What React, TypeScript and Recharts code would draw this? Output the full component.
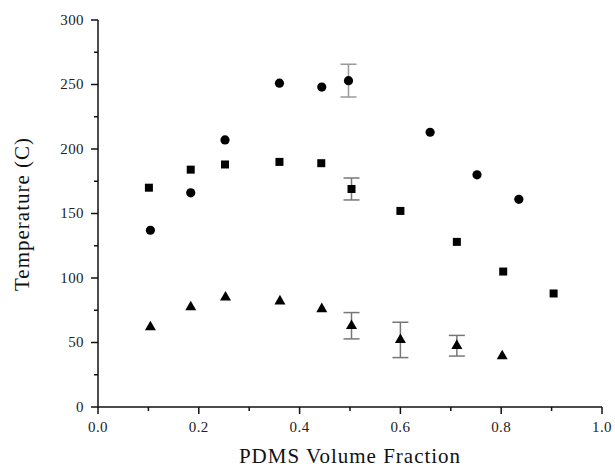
import { ScatterChart, Scatter, XAxis, YAxis, ErrorBar } from "recharts";

// PDMS volume fraction vs temperature, three transitions
const squareX = [0.101, 0.184, 0.252, 0.36, 0.443, 0.503, 0.6, 0.712, 0.804, 0.904];
const squareY = [170, 184, 188, 190, 189, 169, 152, 128, 105, 88];
const squareErr = [null, null, null, null, null, 8.5, null, null, null, null];

const circleX = [0.104, 0.184, 0.252, 0.36, 0.444, 0.497, 0.659, 0.752, 0.835];
const circleY = [137, 166, 207, 251, 248, 253, 213, 180, 161];
const circleErr = [null, null, null, null, null, 12.7, null, null, null];

const triangleX = [0.104, 0.184, 0.253, 0.361, 0.444, 0.503, 0.6, 0.712, 0.802];
const triangleY = [62, 77.5, 85, 82, 76, 63, 52, 47.5, 39.5];
const triangleErr = [null, null, null, null, null, 10.2, 13.7, 8, null];

const xTicks = [0, 0.1, 0.2, 0.3, 0.4, 0.5, 0.6, 0.7, 0.8, 0.9, 1.0];
const yTicks = [0, 25, 50, 75, 100, 125, 150, 175, 200, 225, 250, 275, 300];

const font = '"Liberation Serif", "Times New Roman", serif';
const ink = "#111";

const toRows = (xs: number[], ys: number[], errs: (number | null)[]) =>
  xs.map((x, i) => ({ x, y: ys[i], err: errs[i] }));

const squares = toRows(squareX, squareY, squareErr);
const circles = toRows(circleX, circleY, circleErr);
const triangles = toRows(triangleX, triangleY, triangleErr);

function Marker({ cx, cy, kind }: any) {
  if (cx == null || cy == null) return null;
  if (kind === "circle") return <circle cx={cx} cy={cy} r={4.6} fill="#000" />;
  if (kind === "square") return <rect x={cx - 4} y={cy - 4} width={8} height={8} fill="#000" />;
  const s = 11;
  const h = s * 0.866;
  return (
    <polygon
      points={`${cx},${cy - (2 * h) / 3} ${cx - s / 2},${cy + h / 3} ${cx + s / 2},${cy + h / 3}`}
      fill="#000"
    />
  );
}

function XTick({ x, y, payload }: any) {
  const v = payload.value;
  const major = Math.round(v * 10) % 2 === 0;
  return (
    <g>
      <line x1={x} x2={x} y1={y} y2={y + (major ? 7 : 4)} stroke={ink} strokeWidth={1.5} />
      {major && (
        <text x={x} y={y + 25} textAnchor="middle" fontFamily={font} fontSize={15} letterSpacing={0.4} fill="#222">
          {v.toFixed(1)}
        </text>
      )}
    </g>
  );
}

function YTick({ x, y, payload }: any) {
  const v = payload.value;
  const major = v % 50 === 0;
  return (
    <g>
      <line x1={x - (major ? 7 : 4)} x2={x} y1={y} y2={y} stroke={ink} strokeWidth={1.5} />
      {major && (
        <text x={x - 14} y={y} dy="0.3em" textAnchor="end" fontFamily={font} fontSize={15} letterSpacing={0.4} fill="#222">
          {v}
        </text>
      )}
    </g>
  );
}

export default function App() {
  return (
    <div style={{ position: "absolute", left: 0, top: 0, background: "#fff" }}>
      <ScatterChart width={615} height={469} margin={{ top: 20, right: 13, bottom: 0, left: 0 }}>
        <XAxis
          type="number"
          dataKey="x"
          domain={[0, 1]}
          ticks={xTicks}
          interval={0}
          height={62}
          tickSize={0}
          tickMargin={0}
          tickLine={false}
          axisLine={{ stroke: ink, strokeWidth: 1.5 }}
          tick={<XTick />}
          label={{
            content: () => (
              <text x={350} y={463} textAnchor="middle" fontFamily={font} fontSize={21} letterSpacing={1} fill="#111">
                PDMS Volume Fraction
              </text>
            ),
          }}
        />
        <YAxis
          type="number"
          dataKey="y"
          domain={[0, 300]}
          ticks={yTicks}
          interval={0}
          width={98}
          tickSize={0}
          tickMargin={0}
          tickLine={false}
          axisLine={{ stroke: ink, strokeWidth: 1.5 }}
          tick={<YTick />}
          allowDataOverflow
          label={{
            content: () => (
              <text
                x={29}
                y={214}
                transform="rotate(-90 29 214)"
                textAnchor="middle"
                fontFamily={font}
                fontSize={21}
                letterSpacing={1}
                fill="#111"
              >
                Temperature (C)
              </text>
            ),
          }}
        />
        <Scatter data={squares} isAnimationActive={false} shape={(p: any) => <Marker {...p} kind="square" />}>
          <ErrorBar dataKey="err" direction="y" width={8} stroke="#777" strokeWidth={1.5} />
        </Scatter>
        <Scatter data={circles} isAnimationActive={false} shape={(p: any) => <Marker {...p} kind="circle" />}>
          <ErrorBar dataKey="err" direction="y" width={8} stroke="#999" strokeWidth={1.5} />
        </Scatter>
        <Scatter data={triangles} isAnimationActive={false} shape={(p: any) => <Marker {...p} kind="triangle" />}>
          <ErrorBar dataKey="err" direction="y" width={8} stroke="#777" strokeWidth={1.5} />
        </Scatter>
      </ScatterChart>
    </div>
  );
}
